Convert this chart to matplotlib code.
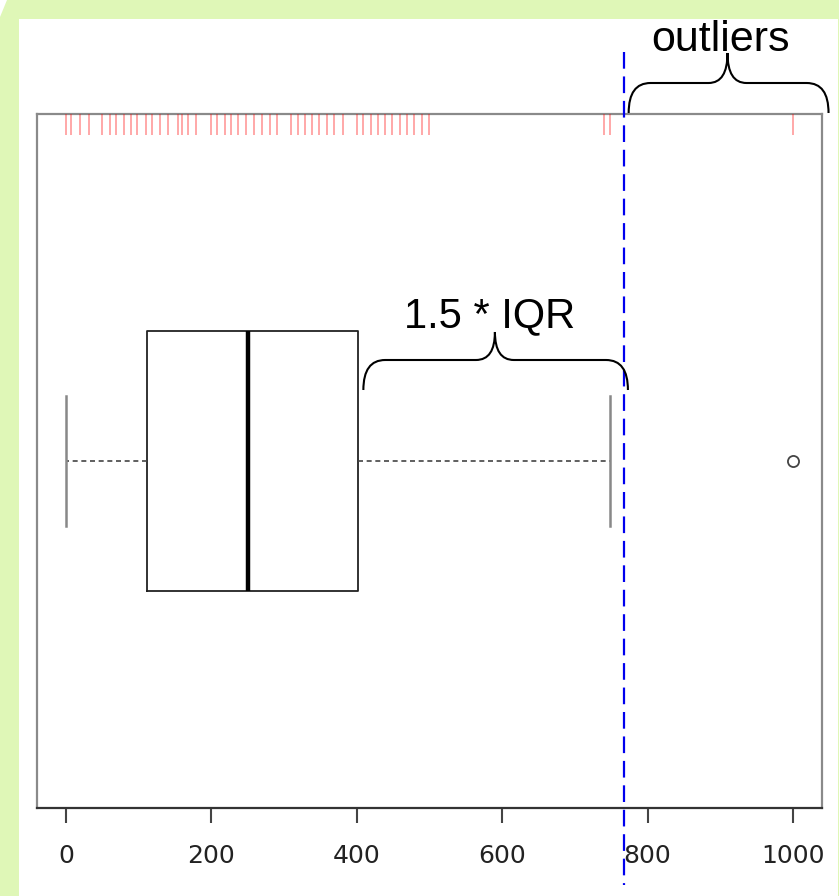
import matplotlib
matplotlib.use("Agg")
import matplotlib.pyplot as plt
from matplotlib.path import Path
from matplotlib.patches import PathPatch, Rectangle, Polygon
import matplotlib.transforms as mtransforms

# ---- data ----
rug_values = [0, 7, 19, 31, 50, 61, 69, 80, 89, 98, 110, 118, 129, 140, 154, 159,
              168, 179, 199, 208, 218, 227, 237, 247, 259, 270, 281, 290, 309, 319,
              329, 338, 348, 359, 369, 381, 400, 408, 419, 429, 439, 449, 459, 469,
              479, 490, 499, 740, 748, 1000]
q1, median, q3 = 111, 250, 402
whisker_low, whisker_high = 0, 749
outliers = [1000]
fence = 768            # blue dashed line position
xticks = [0, 200, 400, 600, 800, 1000]
label_iqr = "1.5 * IQR"
label_out = "outliers"

W, H = 839, 896
fig = plt.figure(figsize=(W / 100, H / 100), dpi=100)
fig.patch.set_facecolor("#dff7b7")
# white panel
fig.patches.append(Rectangle((19 / W, 0), (838 - 19) / W, (H - 19) / H,
                             transform=fig.transFigure, facecolor="white",
                             edgecolor="none", zorder=-5))
fig.patches.append(Polygon([(0, 1), (7 / W, 1), (0, 1 - 17 / H)], closed=True,
                           transform=fig.transFigure, facecolor="white",
                           edgecolor="none", zorder=-5))

ax = fig.add_axes([37 / W, (H - 808) / H, (822 - 37) / W, (808 - 114) / H])
ax.set_facecolor("none")
ax.set_xlim(-40, 1040)
ax.set_ylim(0, 1)

stats = [dict(q1=q1, med=median, q3=q3, whislo=whisker_low, whishi=whisker_high,
              fliers=outliers)]
ax.bxp(stats, positions=[0.5], widths=[0.375], vert=False, showcaps=True,
       boxprops=dict(color="#222222", linewidth=1.3),
       medianprops=dict(color="black", linewidth=3.2),
       whiskerprops=dict(color="#444444", linewidth=1.2, linestyle=(0, (3, 2.2))),
       capprops=dict(color="#888888", linewidth=1.8),
       capwidths=[0.186],
       flierprops=dict(marker="o", markerfacecolor="none", markeredgecolor="#444444",
                       markersize=8, markeredgewidth=1.3))

# rug along the top
for v in rug_values:
    ax.plot([v, v], [1.0, 1 - 21 / 694], color="red", alpha=0.4, linewidth=1.2,
            solid_capstyle="butt", zorder=3)

# spines & ticks
for s in ["left", "right", "top"]:
    ax.spines[s].set_color("#8a8a8a")
    ax.spines[s].set_linewidth(1.6)
ax.spines["bottom"].set_color("#333333")
ax.spines["bottom"].set_linewidth(1.6)
ax.set_yticks([])
ax.set_xticks(xticks)
ax.set_xticklabels([str(t) for t in xticks], family="DejaVu Sans", fontsize=18,
                   color="#222222")
ax.tick_params(axis="x", length=11, width=1.5, color="#444444", pad=15)

# blended transform: x data, y axes fraction
trans = mtransforms.blended_transform_factory(ax.transData, ax.transAxes)

# blue dashed fence line
ax.plot([fence, fence], [1.089, -0.111], transform=trans, color="#0000ee",
        linewidth=1.6, linestyle=(0, (7.5, 3.5)), clip_on=False, zorder=5)


def brace(x0, x1, xm, yb, yh, yt, rx_end, rx_mid):
    verts = [(x0, yb), (x0, yh), (x0 + rx_end, yh),
             (xm - rx_mid, yh), (xm, yh), (xm, yt),
             (xm, yh), (xm + rx_mid, yh),
             (x1 - rx_end, yh), (x1, yh), (x1, yb)]
    codes = [Path.MOVETO, Path.CURVE3, Path.CURVE3,
             Path.LINETO, Path.CURVE3, Path.CURVE3,
             Path.CURVE3, Path.CURVE3,
             Path.LINETO, Path.CURVE3, Path.CURVE3]
    p = PathPatch(Path(verts, codes), transform=trans, facecolor="none",
                  edgecolor="black", linewidth=1.5, clip_on=False, zorder=6)
    ax.add_patch(p)


def fy(ypix):
    return (808 - ypix) / 694


# 1.5 * IQR brace
brace(409, 773, 590, fy(390), fy(360), fy(332), 30, 26)
ax.text(583, fy(327), label_iqr, transform=trans, ha="center", va="baseline",
        fontsize=30, family="Liberation Sans", color="black", clip_on=False)

# outliers brace
brace(774, 1049, 910, fy(113), fy(83), fy(53), 30, 26)
ax.text(901, fy(51), label_out, transform=trans, ha="center", va="baseline",
        fontsize=31, family="Liberation Sans", color="black", clip_on=False)

fig.savefig("out.png", dpi=100, facecolor=fig.get_facecolor())
